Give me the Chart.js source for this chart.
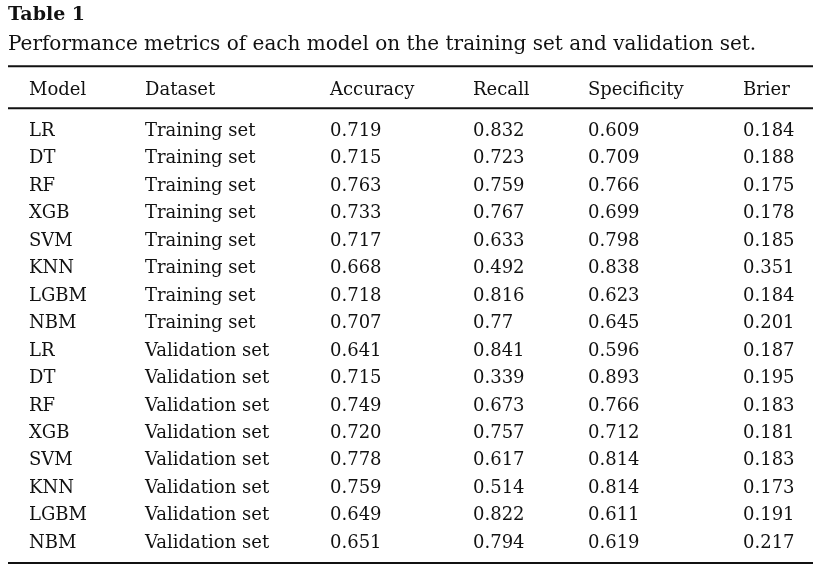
<!DOCTYPE html>
<html>
<head>
<meta charset="utf-8">
<script src="https://cdn.jsdelivr.net/npm/chart.js@4"></script>
<style>
  html, body { margin: 0; padding: 0; background: #fff; }
  #wrap { width: 823px; height: 570px; }
</style>
</head>
<body>
<div id="wrap"><canvas id="tableChart"></canvas></div>
<script>
// ========== Data ==========
const columns = ['Model', 'Dataset', 'Accuracy', 'Recall', 'Specificity', 'Brier'];
const models = ['LR', 'DT', 'RF', 'XGB', 'SVM', 'KNN', 'LGBM', 'NBM',
                'LR', 'DT', 'RF', 'XGB', 'SVM', 'KNN', 'LGBM', 'NBM'];
const datasetNames = ['Training set', 'Training set', 'Training set', 'Training set',
                      'Training set', 'Training set', 'Training set', 'Training set',
                      'Validation set', 'Validation set', 'Validation set', 'Validation set',
                      'Validation set', 'Validation set', 'Validation set', 'Validation set'];
const accuracy = ['0.719', '0.715', '0.763', '0.733', '0.717', '0.668', '0.718', '0.707',
                  '0.641', '0.715', '0.749', '0.720', '0.778', '0.759', '0.649', '0.651'];
const recall = ['0.832', '0.723', '0.759', '0.767', '0.633', '0.492', '0.816', '0.77',
                '0.841', '0.339', '0.673', '0.757', '0.617', '0.514', '0.822', '0.794'];
const specificity = ['0.609', '0.709', '0.766', '0.699', '0.798', '0.838', '0.623', '0.645',
                     '0.596', '0.893', '0.766', '0.712', '0.814', '0.814', '0.611', '0.619'];
const brier = ['0.184', '0.188', '0.175', '0.178', '0.185', '0.351', '0.184', '0.201',
               '0.187', '0.195', '0.183', '0.181', '0.183', '0.173', '0.191', '0.217'];

// ========== Layout ==========
const FONT = '"DejaVu Serif", serif';
const colOffset = [21, 137, 322, 465, 580, 735]; // left edge of each column, px from table left
const tableWidth = 805;

const rowKeys = models.map((m, i) => m + ' / ' + datasetNames[i]);
const cellColumns = [models, datasetNames, accuracy, recall, specificity, brier];

// one point per cell, text is drawn on top by the plugin
const cells = [];
cellColumns.forEach((col, c) => {
  col.forEach((txt, r) => {
    cells.push({ x: colOffset[c], y: rowKeys[r], text: txt });
  });
});

// ========== Plugin: text + rules ==========
const tablePlugin = {
  id: 'tableText',
  afterDatasetsDraw(chart) {
    const ctx = chart.ctx;
    const area = chart.chartArea;
    const xs = chart.scales.x;
    const meta = chart.getDatasetMeta(0);
    ctx.save();
    ctx.fillStyle = '#111';
    ctx.textBaseline = 'middle';
    ctx.textAlign = 'left';
    ctx.font = '18px ' + FONT;

    meta.data.forEach((pt, i) => {
      ctx.fillText(cells[i].text, pt.x, pt.y + 1);
    });

    // header row
    const headerY = area.top - 26;
    columns.forEach((name, c) => {
      ctx.fillText(name, xs.getPixelForValue(colOffset[c]), headerY);
    });

    // rules
    ctx.strokeStyle = '#111';
    ctx.lineWidth = 2;
    [area.top - 50, area.top - 8, area.bottom + 7].forEach(y => {
      ctx.beginPath();
      ctx.moveTo(area.left, y);
      ctx.lineTo(area.right, y);
      ctx.stroke();
    });
    ctx.restore();
  }
};

// ========== Chart ==========
new Chart(document.getElementById('tableChart'), {
  type: 'scatter',
  data: {
    datasets: [{
      data: cells,
      pointRadius: 0,
      pointHoverRadius: 0
    }]
  },
  options: {
    responsive: true,
    maintainAspectRatio: false,
    animation: false,
    events: [],
    layout: { padding: { left: 8, right: 10, top: 0, bottom: 14 } },
    scales: {
      x: { type: 'linear', min: 0, max: tableWidth, display: false },
      y: { type: 'category', labels: rowKeys, offset: true, display: false }
    },
    plugins: {
      legend: { display: false },
      tooltip: { enabled: false },
      title: {
        display: true,
        text: 'Table 1',
        align: 'start',
        color: '#111',
        font: { family: FONT, size: 19, weight: 'bold' },
        padding: { top: 4, bottom: 5.5 }
      },
      subtitle: {
        display: true,
        text: 'Performance metrics of each model on the training set and validation set.',
        align: 'start',
        color: '#111',
        font: { family: FONT, size: 20 },
        padding: { top: 0, bottom: 60 }
      }
    }
  },
  plugins: [tablePlugin]
});
</script>
</body>
</html>
